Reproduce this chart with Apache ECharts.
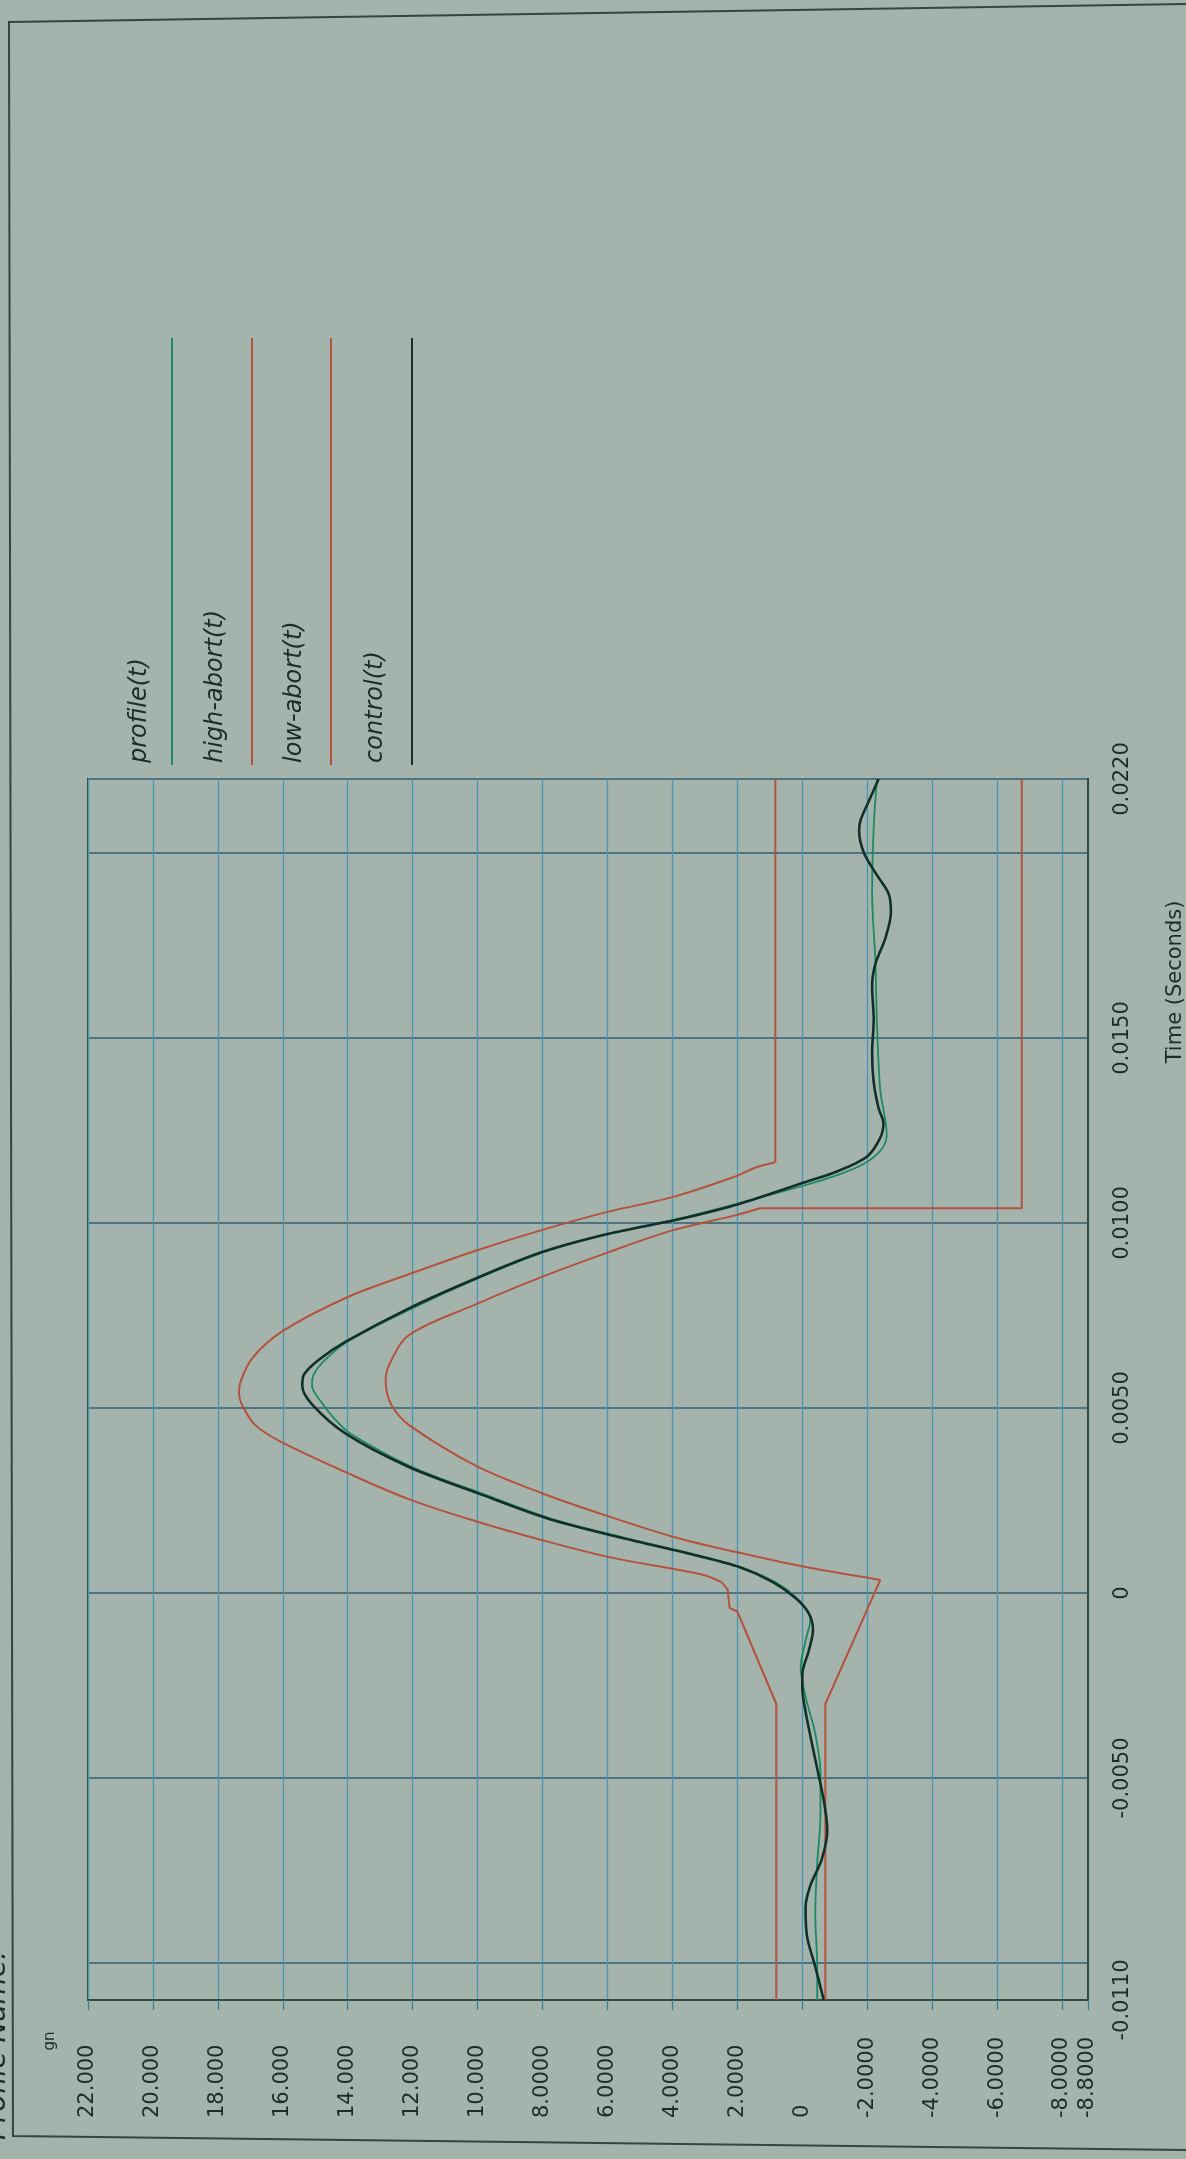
<!DOCTYPE html>
<html>
<head>
<meta charset="utf-8">
<script src="https://cdn.jsdelivr.net/npm/echarts@6/dist/echarts.min.js"></script>
<style>
html,body{margin:0;padding:0;background:#a4b4ad;}
#c{width:1186px;height:2159px;}
</style>
</head>
<body>
<div id="c"></div>
<script>
// gn axis (horizontal in the picture, inverted)
const gnTickValues = [22,20,18,16,14,12,10,8,6,4,2,0,-2,-4,-6,-8,-8.8];
const gnTickLabels = ['22.000','20.000','18.000','16.000','14.000','12.000','10.000','8.0000','6.0000','4.0000','2.0000','0','-2.0000','-4.0000','-6.0000','-8.0000','-8.8000'];
// time axis (vertical in the picture)
const timeGridValues = [-0.011,-0.010,-0.005,0,0.005,0.010,0.015,0.020,0.022];
const timeLabelValues = [-0.011,-0.005,0,0.005,0.010,0.015,0.022];
const timeTickLabels = ['-0.0110','-0.0050','0','0.0050','0.0100','0.0150','0.0220'];

const seriesNames = ['profile(t)','high-abort(t)','low-abort(t)','control(t)'];

// control(t)
const controlT = [-0.011,-0.0101,-0.0093,-0.0085,-0.0079,-0.0072,-0.0064,-0.0056,-0.0045,-0.0032,-0.00257,-0.0022,-0.00156,-0.001,-0.00055,-0.00014,0.0003,0.0007,0.001,0.0015,0.002,0.0027,0.0034,0.0043,0.0051,0.0056,0.0059,0.0063,0.0068,0.0077,0.0085,0.0092,0.0097,0.0101,0.0105,0.0111,0.0114,0.0118,0.0123,0.0127,0.0131,0.0138,0.0146,0.0155,0.0164,0.017,0.0177,0.0184,0.0189,0.0194,0.02,0.0206,0.0209,0.0215,0.022];
const controlG = [-0.66,-0.4,-0.15,-0.1,-0.25,-0.6,-0.77,-0.66,-0.4,-0.1,0,0,-0.2,-0.33,-0.2,0.2,0.92,1.94,3.2,5.6,7.8,10.0,12.1,14.05,15.1,15.4,15.35,14.9,14.05,12.1,10.06,8.06,6.0,3.8,2.0,-0.08,-1.09,-2.0,-2.4,-2.5,-2.35,-2.2,-2.15,-2.2,-2.15,-2.25,-2.56,-2.73,-2.66,-2.3,-1.9,-1.75,-1.8,-2.1,-2.35];

// profile(t)
const profileT = [-0.011,-0.0101,-0.0087,-0.0073,-0.006,-0.0049,-0.0038,-0.0028,-0.002,-0.0013,-0.0007,-0.0002,0.0003,0.0007,0.001,0.0015,0.002,0.0027,0.0034,0.0043,0.0047,0.0052,0.0056,0.0059,0.0063,0.0068,0.0077,0.0085,0.0092,0.0097,0.0101,0.0105,0.011,0.0113,0.0116,0.012,0.0124,0.0136,0.0154,0.0171,0.0189,0.0207,0.022];
const profileG = [-0.46,-0.46,-0.4,-0.46,-0.56,-0.56,-0.4,-0.1,0.05,-0.1,-0.25,0.1,0.85,1.9,3.1,5.5,7.7,9.9,12.0,13.9,14.4,14.85,15.1,15.05,14.7,14.0,12.0,10.0,8.0,6.0,3.9,2.1,0.0,-1.1,-1.9,-2.45,-2.6,-2.4,-2.3,-2.25,-2.15,-2.2,-2.3];

// high-abort(t)
const highT = [-0.011,-0.003,-0.0005,-0.0004,0.0001,0.0003,0.0005,0.00097,0.00144,0.00194,0.00253,0.00326,0.00407,0.00453,0.00507,0.0054,0.00571,0.00635,0.00707,0.00798,0.00862,0.00925,0.0098,0.0103,0.0107,0.01124,0.0115,0.01164,0.022];
const highG = [0.8,0.8,2.0,2.24,2.3,2.5,3.1,5.95,8.06,10.06,12.1,14.05,16.02,16.84,17.25,17.35,17.3,16.94,16.02,14.05,12.1,10.06,8.06,6.0,4.0,2.12,1.43,0.83,0.83];
const highCurve = [5, 27];   // index range of the rounded part

// low-abort(t)
const lowT = [-0.011,-0.003,0.00035,0.00041,0.0007,0.0011,0.0015,0.00208,0.00271,0.00344,0.00453,0.005,0.00544,0.0058,0.0063,0.00698,0.0078,0.00853,0.0092,0.0098,0.0102,0.0104,0.0104,0.022];
const lowG = [-0.71,-0.71,-2.4,-2.04,-0.1,2.0,3.9,6.0,8.06,10.06,12.1,12.6,12.8,12.83,12.65,12.1,10.06,8.06,6.0,4.0,2.1,1.3,-6.76,-6.76];
const lowCurve = [3, 21];

function pairs(ts, gs){ return ts.map((t,i)=>[gs[i], t]); }
function lookup(vals, labels, v){
  const i = vals.findIndex(x => Math.abs(x - v) < 1e-9);
  return i >= 0 ? labels[i] : '';
}

const FONT = 'DejaVu Sans';
const TXT = '#1f2b26';
const RED = '#b4523c';
const chart = echarts.init(document.getElementById('c'), null, {renderer:'canvas'});

const legendX = [140, 216, 295, 376];
const legendLineX = [172, 252, 331, 412];
const legendColors = ['#1d8a5e', RED, RED, '#12302a'];

const graphics = [
  {type:'polyline', shape:{points:[[1186,4],[9,22],[13,2136],[1186,2150]]}, style:{stroke:'#34463f', lineWidth:2, fill:null}},
  {type:'text', x:-2, y:2140, rotation:Math.PI/2, style:{text:'Profile Name:', fill:TXT, font:'italic 28px "'+FONT+'"', align:'left', verticalAlign:'middle'}},
  {type:'text', x:50, y:2041, rotation:Math.PI/2, style:{text:'gn', fill:TXT, font:'15px "'+FONT+'"', align:'center', verticalAlign:'middle'}},
  {type:'text', x:1176, y:982, rotation:Math.PI/2, style:{text:'Time (Seconds)', fill:TXT, font:'21px "'+FONT+'"', align:'center', verticalAlign:'middle'}}
];
seriesNames.forEach((n,i)=>{
  graphics.push({type:'text', x:legendX[i], y:763, rotation:Math.PI/2, style:{text:n, fill:TXT, font:'italic 24px "'+FONT+'"', align:'left', verticalAlign:'middle'}});
  graphics.push({type:'line', shape:{x1:legendLineX[i], y1:765, x2:legendLineX[i], y2:338}, style:{stroke:legendColors[i], lineWidth:2}});
});

function abortSeries(name, ts, gs, range){
  const all = pairs(ts, gs);
  const base = {name:name, type:'line', symbol:'none', lineStyle:{color:RED, width:2}};
  return [
    Object.assign({}, base, {data:all.slice(0, range[0]+1)}),
    Object.assign({}, base, {data:all.slice(range[0], range[1]+1), smooth:0.35}),
    Object.assign({}, base, {data:all.slice(range[1])})
  ];
}

chart.setOption({
  backgroundColor:'#a4b4ad',
  animation:false,
  grid:{left:88, right:98, top:779, bottom:159, show:true, borderColor:'#34493f', borderWidth:2, backgroundColor:'transparent'},
  xAxis:{
    type:'value', min:-8.8, max:22, inverse:true, position:'bottom',
    axisLine:{show:true, onZero:false, lineStyle:{color:'#34493f', width:2}},
    axisTick:{show:true, customValues:gnTickValues, length:10, lineStyle:{color:'#3d7f95', width:1.3}},
    axisLabel:{show:true, customValues:gnTickValues, interval:0, rotate:90, align:'left', verticalAlign:'middle', margin:118,
      formatter:v=>lookup(gnTickValues, gnTickLabels, v), fontFamily:FONT, fontSize:21, color:TXT},
    splitLine:{show:true, lineStyle:{color:'#4796b5', width:1.3}}
  },
  yAxis:{
    type:'value', min:-0.011, max:0.022, position:'right',
    axisLine:{show:true, onZero:false, lineStyle:{color:'#34493f', width:2}},
    axisTick:{show:false, customValues:timeGridValues},
    axisLabel:{show:true, customValues:timeLabelValues, interval:0, rotate:90, margin:24,
      formatter:v=>lookup(timeLabelValues, timeTickLabels, v), fontFamily:FONT, fontSize:21, color:TXT},
    splitLine:{show:true, lineStyle:{color:'#4f7480', width:2}}
  },
  graphic:graphics,
  series:[].concat(
    abortSeries(seriesNames[1], highT, highG, highCurve),
    abortSeries(seriesNames[2], lowT, lowG, lowCurve),
    [
      {name:seriesNames[0], type:'line', data:pairs(profileT, profileG), symbol:'none', smooth:0.3, lineStyle:{color:'#1d8a5e', width:1.8}},
      {name:seriesNames[3], type:'line', data:pairs(controlT, controlG), symbol:'none', smooth:0.3, lineStyle:{color:'#12302a', width:2.6}}
    ]
  )
});
</script>
</body>
</html>
